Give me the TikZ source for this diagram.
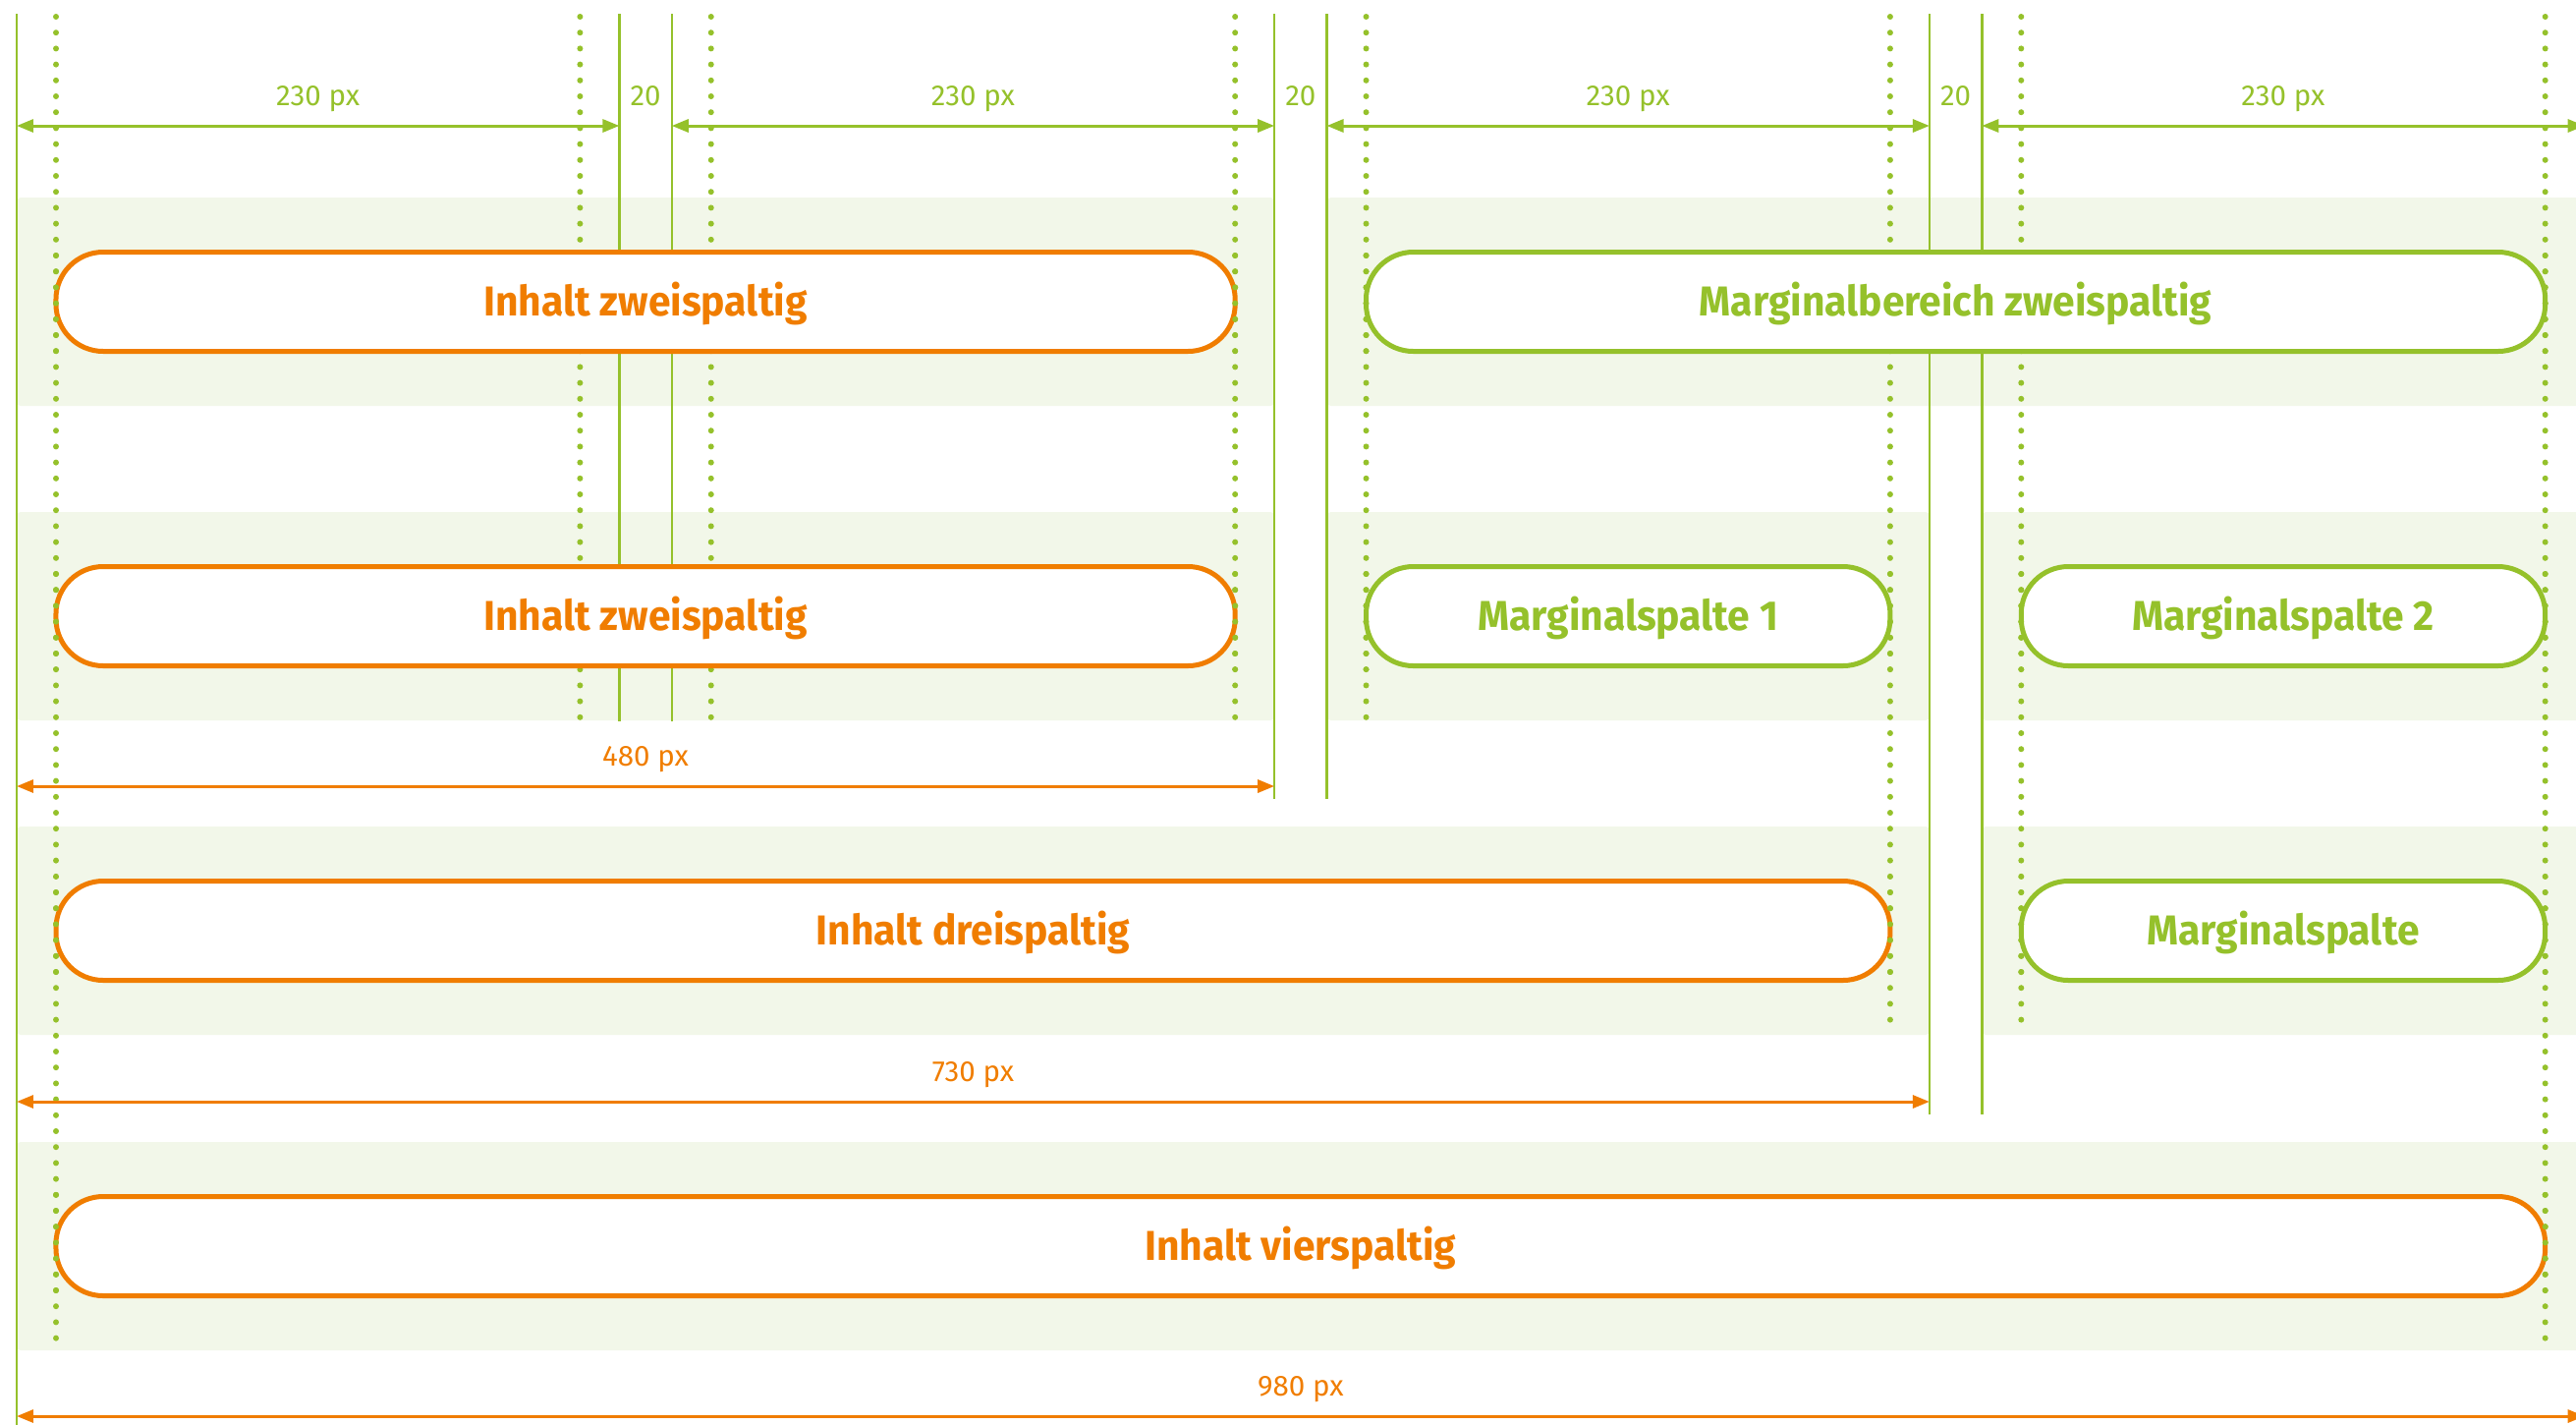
\documentclass[tikz,border=0pt]{standalone}
\usepackage{fontspec}
\setmainfont{Fira Sans}[FakeStretch=0.96]
\newfontfamily\dimfont{Fira Sans}
\usetikzlibrary{arrows.meta}
\definecolor{og}{HTML}{F07D00}
\definecolor{gr}{HTML}{95C12B}
\definecolor{bandc}{HTML}{F2F7E9}
\tikzset{
  band/.style={fill=bandc, rounded corners=4pt},
  sline/.style={draw=gr, line width=2.5pt},
  dline/.style={draw=gr, line width=6pt, line cap=round, dash pattern=on 0pt off 16.2pt},
  pill/.style={draw, fill=white, line width=5pt, rounded corners=48pt, minimum height=101pt,
    inner sep=0pt, text height=29.5pt, text depth=0pt, font=\fontsize{42.5}{46}\selectfont\bfseries},
  opill/.style={pill, draw=og, text=og},
  gpill/.style={pill, draw=gr, text=gr},
  dimg/.style={draw=gr, line width=3pt, {Triangle[length=17pt,width=13pt]}-{Triangle[length=17pt,width=13pt]}},
  dimo/.style={dimg, draw=og},
  dimlab/.style={inner sep=0pt, anchor=base, font=\dimfont\fontsize{29.5}{33}\selectfont},
  glab/.style={dimlab, text=gr},
  olab/.style={dimlab, text=og}
}
\begin{document}
\begin{tikzpicture}[x=2.667pt,y=-1pt]
\useasboundingbox (-6.374,0) rectangle (976.75,1449);
% background bands
\fill[band] (0,201) rectangle (480,413);
\fill[band] (500,201) rectangle (990,413);
\fill[band] (0,521) rectangle (480,733);
\fill[band] (500,521) rectangle (730,733);
\fill[band] (750,521) rectangle (990,733);
\fill[band] (0,841) rectangle (730,1053);
\fill[band] (750,841) rectangle (990,1053);
\fill[band] (0,1162) rectangle (990,1374);
% solid grid lines
\draw[sline] (0,14) -- (0,1460);
\draw[sline] (230,14) -- (230,734);
\draw[sline] (250,14) -- (250,734);
\draw[sline] (480,14) -- (480,813);
\draw[sline] (500,14) -- (500,813);
\draw[sline] (730,14) -- (730,1134);
\draw[sline] (750,14) -- (750,1134);
% dotted lines
\newcommand\dotgrid{%
\draw[dline] (15,17) -- (15,1374);
\draw[dline] (215,17) -- (215,734);
\draw[dline] (265,17) -- (265,734);
\draw[dline] (465,17) -- (465,734);
\draw[dline] (515,17) -- (515,734);
\draw[dline] (715,17) -- (715,1053);
\draw[dline] (765,17) -- (765,1053);
\draw[dline] (965,17) -- (965,1374);}
\dotgrid
% boxes
\node[opill, minimum width=1200.2pt] (c1) at (240,307) {Inhalt zweispaltig};
\node[gpill, minimum width=1200.2pt] (m1) at (740,307) {Marginalbereich zweispaltig};
\node[opill, minimum width=1200.2pt] (c2) at (240,627) {Inhalt zweispaltig};
\node[gpill, minimum width=533.4pt] (m2a) at (615,627) {Marginalspalte 1};
\node[gpill, minimum width=533.4pt] (m2b) at (865,627) {Marginalspalte 2};
\node[opill, minimum width=1866.9pt] (c3) at (365,947) {Inhalt dreispaltig};
\node[gpill, minimum width=533.4pt] (m3) at (865,947) {Marginalspalte};
\node[opill, minimum width=2533.7pt] (c4) at (490,1268) {Inhalt vierspaltig};
% dots over box edges
\begin{scope}
\clip (12,252) rectangle (18,362) (462,252) rectangle (468,362) (512,252) rectangle (518,362) (962,252) rectangle (968,362)
      (12,572) rectangle (18,682) (462,572) rectangle (468,682) (512,572) rectangle (518,682)
      (712,572) rectangle (718,682) (762,572) rectangle (768,682) (962,572) rectangle (968,682)
      (12,892) rectangle (18,1002) (712,892) rectangle (718,1002) (762,892) rectangle (768,1002) (962,892) rectangle (968,1002)
      (12,1213) rectangle (18,1323) (962,1213) rectangle (968,1323);
\dotgrid
\end{scope}
% green dimensions
\coordinate (t0) at (0,128);
\coordinate (t1) at (230,128);
\coordinate (t2) at (250,128);
\coordinate (t3) at (480,128);
\coordinate (t4) at (500,128);
\coordinate (t5) at (730,128);
\coordinate (t6) at (750,128);
\coordinate (t7) at (980,128);
\draw[dimg] (t0) -- node[glab, yshift=21pt] (d1) {230 px} (t1);
\draw[dimg] (t2) -- node[glab, yshift=21pt] (d2) {230 px} (t3);
\draw[dimg] (t4) -- node[glab, yshift=21pt] (d3) {230 px} (t5);
\draw[dimg] (t6) -- node[glab, yshift=21pt] (d4) {230 px} (t7);
\node[glab] (g1) at (240,107) {20};
\node[glab] (g2) at (490,107) {20};
\node[glab] (g3) at (740,107) {20};
% orange dimensions
\coordinate (o0) at (0,800);
\coordinate (o1) at (480,800);
\coordinate (p0) at (0,1121);
\coordinate (p1) at (730,1121);
\coordinate (q0) at (0,1441);
\coordinate (q1) at (980,1441);
\draw[dimo] (o0) -- node[olab, yshift=21pt] (w1) {480 px} (o1);
\draw[dimo] (p0) -- node[olab, yshift=21pt] (w2) {730 px} (p1);
\draw[dimo] (q0) -- node[olab, yshift=21pt] (w3) {980 px} (q1);
\end{tikzpicture}
\end{document}
